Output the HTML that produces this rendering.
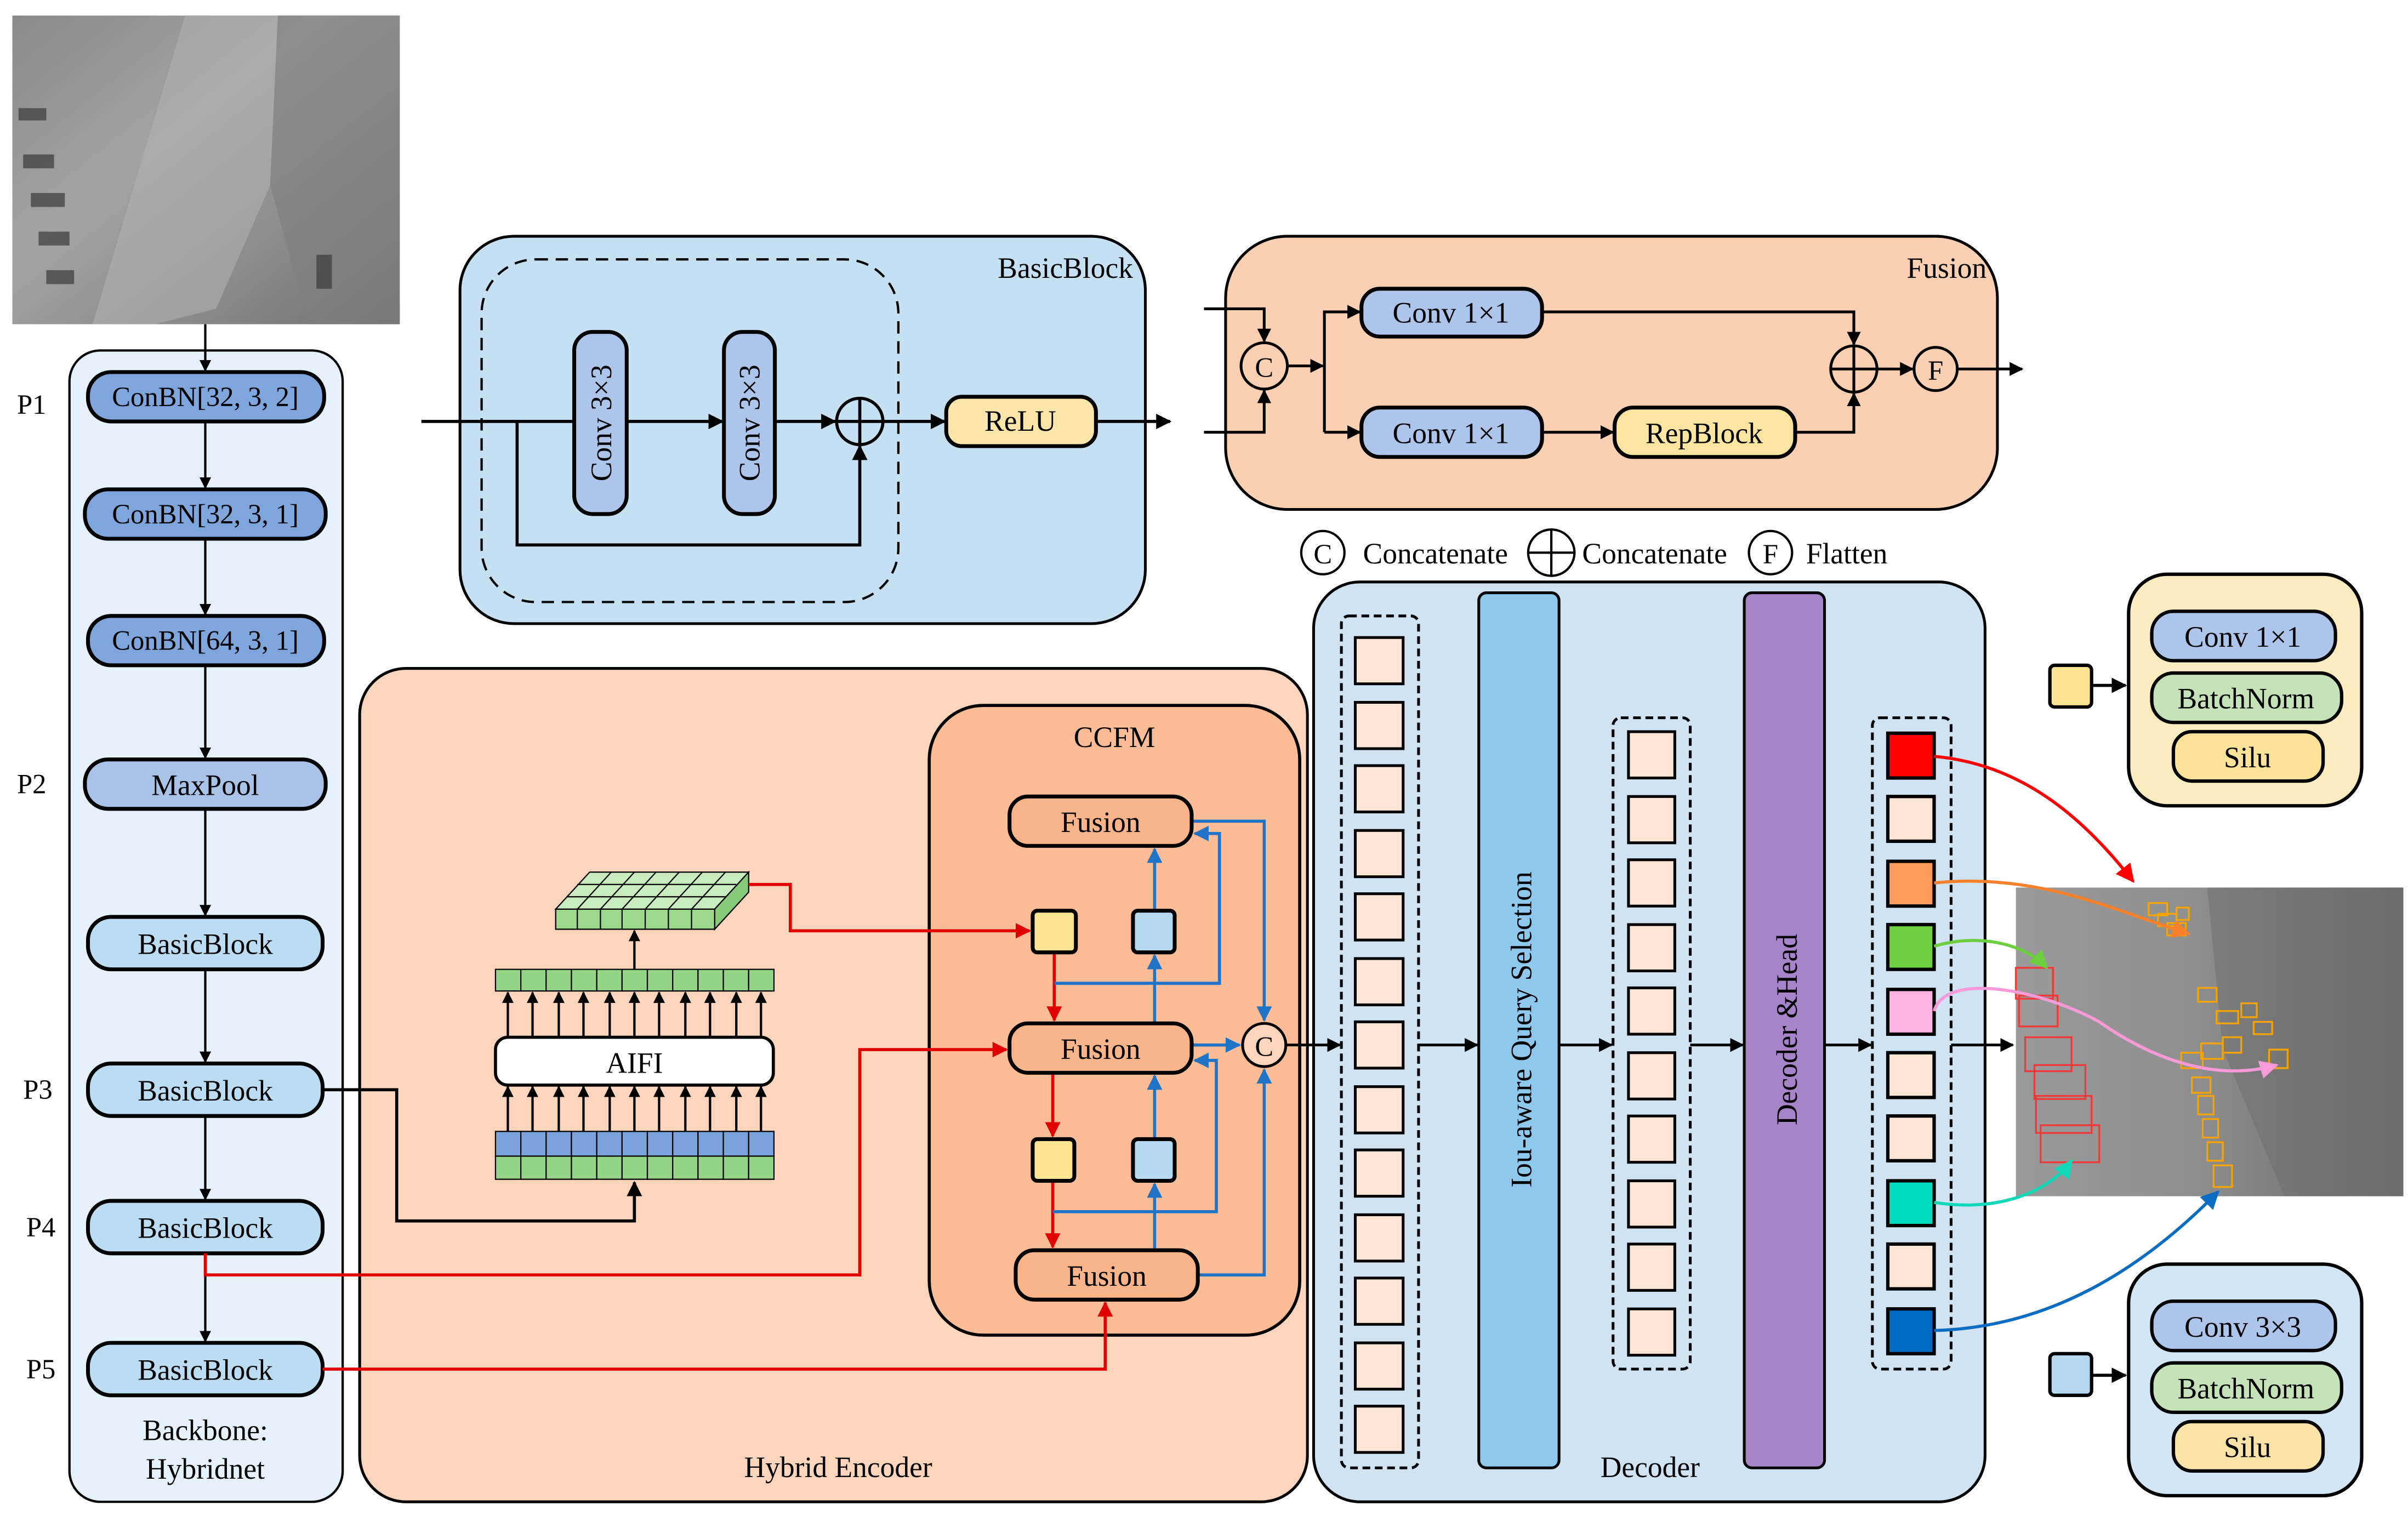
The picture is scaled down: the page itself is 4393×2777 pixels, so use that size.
<!DOCTYPE html>
<html><head><meta charset="utf-8"><style>
html,body{margin:0;padding:0;background:#fff;}
svg{display:block;font-family:"Liberation Serif","Times New Roman",serif;}
svg text{font-family:"Liberation Serif","Times New Roman",serif !important;fill:#000;}
</style></head><body>
<svg width="4393" height="2777" viewBox="0 0 1560 986" xmlns="http://www.w3.org/2000/svg" font-family="Liberation Serif, serif">
<defs>
<marker id="ak" viewBox="0 0 10 10" refX="9" refY="5" markerWidth="5" markerHeight="5" orient="auto-start-reverse"><path d="M0,0L10,5L0,10z" fill="#000"/></marker>
<marker id="ar" viewBox="0 0 10 10" refX="9" refY="5" markerWidth="5" markerHeight="5" orient="auto"><path d="M0,0L10,5L0,10z" fill="#e00000"/></marker>
<marker id="ab" viewBox="0 0 10 10" refX="9" refY="5" markerWidth="5" markerHeight="5" orient="auto"><path d="M0,0L10,5L0,10z" fill="#1f74c8"/></marker>
<marker id="aR" viewBox="0 0 10 10" refX="9" refY="5" markerWidth="6" markerHeight="6" orient="auto"><path d="M0,0L10,5L0,10z" fill="#f00"/></marker>
<marker id="aO" viewBox="0 0 10 10" refX="9" refY="5" markerWidth="6" markerHeight="6" orient="auto"><path d="M0,0L10,5L0,10z" fill="#f7812a"/></marker>
<marker id="aG" viewBox="0 0 10 10" refX="9" refY="5" markerWidth="6" markerHeight="6" orient="auto"><path d="M0,0L10,5L0,10z" fill="#6bcf3d"/></marker>
<marker id="aP" viewBox="0 0 10 10" refX="9" refY="5" markerWidth="6" markerHeight="6" orient="auto"><path d="M0,0L10,5L0,10z" fill="#f99ad8"/></marker>
<marker id="aT" viewBox="0 0 10 10" refX="9" refY="5" markerWidth="6" markerHeight="6" orient="auto"><path d="M0,0L10,5L0,10z" fill="#10d8b8"/></marker>
<marker id="aB" viewBox="0 0 10 10" refX="9" refY="5" markerWidth="6" markerHeight="6" orient="auto"><path d="M0,0L10,5L0,10z" fill="#0b6cc4"/></marker>
<linearGradient id="ph1" x1="0" y1="0" x2="1" y2="1"><stop offset="0" stop-color="#8a8a8a"/><stop offset="0.4" stop-color="#a3a3a3"/><stop offset="0.7" stop-color="#8c8c8c"/><stop offset="1" stop-color="#6f6f6f"/></linearGradient>
<linearGradient id="ph2" x1="0" y1="0" x2="1" y2="0"><stop offset="0" stop-color="#9a9a9a"/><stop offset="0.45" stop-color="#8f8f8f"/><stop offset="0.7" stop-color="#7d7d7d"/><stop offset="1" stop-color="#6a6a6a"/></linearGradient>
</defs>

<rect x="8" y="10" width="251" height="200" fill="url(#ph1)"/>
<path d="M120,10 L180,10 L175,120 L140,200 L100,210 L60,210 Z" fill="#b0b0b0" opacity="0.6"/>
<path d="M180,10 L259,10 L259,210 L200,210 L175,120 Z" fill="#7f7f7f" opacity="0.6"/>
<g fill="#3a3a3a" opacity="0.7"><rect x="12" y="70" width="18" height="8"/><rect x="15" y="100" width="20" height="9"/><rect x="20" y="125" width="22" height="9"/><rect x="25" y="150" width="20" height="9"/><rect x="30" y="175" width="18" height="9"/><rect x="205" y="165" width="10" height="22"/></g>

<rect x="45" y="227" width="177" height="746" rx="20" fill="#e6f2fb" stroke="#000" stroke-width="1.5"/>
<g font-size="18">
<text x="11" y="268">P1</text><text x="11" y="514">P2</text><text x="15" y="712">P3</text><text x="17" y="801">P4</text><text x="17" y="893">P5</text>
</g>
<g stroke="#000" stroke-width="1.5" marker-end="url(#ak)">
<line x1="133" y1="210" x2="133" y2="240"/>
<line x1="133" y1="273" x2="133" y2="316"/>
<line x1="133" y1="349" x2="133" y2="398"/>
<line x1="133" y1="431" x2="133" y2="491"/>
<line x1="133" y1="524" x2="133" y2="593"/>
<line x1="133" y1="628" x2="133" y2="688"/>
<line x1="133" y1="723" x2="133" y2="777"/>
<line x1="133" y1="812" x2="133" y2="869"/>
</g>
<g stroke="#000" stroke-width="2.5">
<rect x="57" y="241" width="153" height="32" rx="15" fill="#7ea6dc"/>
<rect x="55" y="317" width="156" height="32" rx="15" fill="#7ea6dc"/>
<rect x="57" y="399" width="153" height="32" rx="15" fill="#7ea6dc"/>
<rect x="55" y="492" width="156" height="32" rx="15" fill="#a9c2e8"/>
<rect x="57" y="594" width="152" height="34" rx="15" fill="#bcdcf3"/>
<rect x="57" y="689" width="152" height="34" rx="15" fill="#bcdcf3"/>
<rect x="57" y="778" width="152" height="34" rx="15" fill="#bcdcf3"/>
<rect x="57" y="870" width="152" height="34" rx="15" fill="#bcdcf3"/>
</g>
<g font-size="18" text-anchor="middle">
<text x="133" y="263">ConBN[32, 3, 2]</text>
<text x="133" y="339">ConBN[32, 3, 1]</text>
<text x="133" y="421">ConBN[64, 3, 1]</text>
<text x="133" y="515" font-size="19">MaxPool</text>
<text x="133" y="618" font-size="19">BasicBlock</text>
<text x="133" y="713" font-size="19">BasicBlock</text>
<text x="133" y="802" font-size="19">BasicBlock</text>
<text x="133" y="894" font-size="19">BasicBlock</text>
<text x="133" y="933" font-size="19">Backbone:</text>
<text x="133" y="958" font-size="19">Hybridnet</text>
</g>

<rect x="298" y="153" width="444" height="251" rx="35" fill="#c5e0f3" stroke="#000" stroke-width="1.8"/>
<text x="734" y="180" font-size="19" text-anchor="end">BasicBlock</text>
<rect x="312" y="168" width="270" height="222" rx="35" fill="none" stroke="#000" stroke-width="1.5" stroke-dasharray="8,5"/>
<g stroke="#000" stroke-width="2">
<line x1="273" y1="273" x2="372" y2="273"/>
<line x1="406" y1="273" x2="468" y2="273" marker-end="url(#ak)"/>
<line x1="502" y1="273" x2="541" y2="273" marker-end="url(#ak)"/>
<line x1="572" y1="273" x2="612" y2="273" marker-end="url(#ak)"/>
<line x1="710" y1="273" x2="758" y2="273" marker-end="url(#ak)"/>
<polyline points="335,273 335,353 557,353 557,289" fill="none" marker-end="url(#ak)"/>
</g>
<rect x="372" y="215" width="34" height="118" rx="12" fill="#adc5ea" stroke="#000" stroke-width="2.5"/>
<rect x="469" y="215" width="33" height="118" rx="12" fill="#adc5ea" stroke="#000" stroke-width="2.5"/>
<text transform="translate(396,274) rotate(-90)" font-size="19" text-anchor="middle">Conv 3×3</text>
<text transform="translate(492,274) rotate(-90)" font-size="19" text-anchor="middle">Conv 3×3</text>
<circle cx="557" cy="273" r="15" fill="#c5e0f3" stroke="#000" stroke-width="2"/>
<line x1="542" y1="273" x2="572" y2="273" stroke="#000" stroke-width="2"/><line x1="557" y1="258" x2="557" y2="288" stroke="#000" stroke-width="2"/>
<rect x="613" y="257" width="97" height="32" rx="10" fill="#fbe5a8" stroke="#000" stroke-width="2.5"/>
<text x="661" y="279" font-size="19" text-anchor="middle">ReLU</text>

<rect x="794" y="153" width="500" height="177" rx="40" fill="#fbcfb1" stroke="#000" stroke-width="1.8"/>
<text x="1287" y="180" font-size="19" text-anchor="end">Fusion</text>
<g stroke="#000" stroke-width="1.8" fill="none">
<polyline points="780,200 819,200 819,221" marker-end="url(#ak)"/>
<polyline points="780,280 819,280 819,253" marker-end="url(#ak)"/>
<line x1="834" y1="237" x2="857" y2="237" marker-end="url(#ak)"/>
<polyline points="858,280 858,202 881,202" marker-end="url(#ak)"/>
<line x1="858" y1="280" x2="881" y2="280" marker-end="url(#ak)"/>
<polyline points="999,202 1201,202 1201,223" marker-end="url(#ak)"/>
<line x1="999" y1="280" x2="1045" y2="280" marker-end="url(#ak)"/>
<polyline points="1163,280 1201,280 1201,255" marker-end="url(#ak)"/>
<line x1="1216" y1="239" x2="1239" y2="239" marker-end="url(#ak)"/>
<line x1="1268" y1="239" x2="1310" y2="239" marker-end="url(#ak)"/>
</g>
<circle cx="819" cy="237" r="15" fill="#fbcfb1" stroke="#000" stroke-width="1.8"/>
<text x="819" y="244" font-size="18" text-anchor="middle">C</text>
<rect x="882" y="187" width="117" height="31" rx="12" fill="#adc5ea" stroke="#000" stroke-width="2.5"/>
<rect x="882" y="264" width="117" height="32" rx="12" fill="#adc5ea" stroke="#000" stroke-width="2.5"/>
<rect x="1046" y="264" width="117" height="32" rx="12" fill="#fbe5a0" stroke="#000" stroke-width="2.5"/>
<g font-size="19" text-anchor="middle"><text x="940" y="209">Conv 1×1</text><text x="940" y="287">Conv 1×1</text><text x="1104" y="287">RepBlock</text></g>
<circle cx="1201" cy="239" r="15" fill="#fbcfb1" stroke="#000" stroke-width="1.8"/>
<line x1="1186" y1="239" x2="1216" y2="239" stroke="#000" stroke-width="1.8"/><line x1="1201" y1="224" x2="1201" y2="254" stroke="#000" stroke-width="1.8"/>
<circle cx="1254" cy="239" r="14" fill="#fbcfb1" stroke="#000" stroke-width="1.8"/>
<text x="1254" y="246" font-size="18" text-anchor="middle">F</text>

<circle cx="857" cy="358" r="14" fill="#fff" stroke="#000" stroke-width="1.5"/><text x="857" y="365" font-size="18" text-anchor="middle">C</text>
<text x="883" y="365" font-size="19">Concatenate</text>
<circle cx="1005" cy="358" r="15" fill="#fff" stroke="#000" stroke-width="1.5"/>
<line x1="990" y1="358" x2="1020" y2="358" stroke="#000" stroke-width="1.5"/><line x1="1005" y1="343" x2="1005" y2="373" stroke="#000" stroke-width="1.5"/>
<text x="1025" y="365" font-size="19">Concatenate</text>
<circle cx="1147" cy="358" r="14" fill="#fff" stroke="#000" stroke-width="1.5"/><text x="1147" y="365" font-size="18" text-anchor="middle">F</text>
<text x="1170" y="365" font-size="19">Flatten</text>

<rect x="233" y="433" width="614" height="540" rx="30" fill="#fdd5bc" stroke="#000" stroke-width="1.8"/>
<text x="543" y="957" font-size="19" text-anchor="middle">Hybrid Encoder</text>
<rect x="602" y="457" width="240" height="408" rx="35" fill="#fcbd96" stroke="#000" stroke-width="2"/>
<text x="722" y="484" font-size="19" text-anchor="middle">CCFM</text>

<g stroke="#000" stroke-width="0.8">
<polygon points="360,589 382,565 485,565 463,589" fill="#c9ecbe"/>
<polygon points="463,589 485,565 485,578 463,602" fill="#86cc78"/>
<rect x="360" y="589" width="103" height="13" fill="#9ad88c"/>
<g fill="none"><line x1="374" y1="589" x2="374" y2="602"/><line x1="389" y1="589" x2="389" y2="602"/><line x1="403" y1="589" x2="403" y2="602"/><line x1="418" y1="589" x2="418" y2="602"/><line x1="433" y1="589" x2="433" y2="602"/><line x1="448" y1="589" x2="448" y2="602"/>
<line x1="367" y1="581" x2="470" y2="581"/><line x1="374" y1="573" x2="477" y2="573"/>
<line x1="374" y1="589" x2="396" y2="565"/><line x1="389" y1="589" x2="411" y2="565"/><line x1="403" y1="589" x2="425" y2="565"/><line x1="418" y1="589" x2="440" y2="565"/><line x1="433" y1="589" x2="455" y2="565"/><line x1="448" y1="589" x2="470" y2="565"/></g>
</g>
<g stroke="#000" stroke-width="0.8">
<g fill="#93d487">
<rect x="321" y="628" width="16.4" height="14"/><rect x="337.4" y="628" width="16.4" height="14"/><rect x="353.8" y="628" width="16.4" height="14"/><rect x="370.2" y="628" width="16.4" height="14"/><rect x="386.6" y="628" width="16.4" height="14"/><rect x="403" y="628" width="16.4" height="14"/><rect x="419.4" y="628" width="16.4" height="14"/><rect x="435.8" y="628" width="16.4" height="14"/><rect x="452.2" y="628" width="16.4" height="14"/><rect x="468.6" y="628" width="16.4" height="14"/><rect x="485" y="628" width="16.4" height="14"/>
<rect x="321" y="749" width="16.4" height="15"/><rect x="337.4" y="749" width="16.4" height="15"/><rect x="353.8" y="749" width="16.4" height="15"/><rect x="370.2" y="749" width="16.4" height="15"/><rect x="386.6" y="749" width="16.4" height="15"/><rect x="403" y="749" width="16.4" height="15"/><rect x="419.4" y="749" width="16.4" height="15"/><rect x="435.8" y="749" width="16.4" height="15"/><rect x="452.2" y="749" width="16.4" height="15"/><rect x="468.6" y="749" width="16.4" height="15"/><rect x="485" y="749" width="16.4" height="15"/>
</g>
<g fill="#7aa3dc">
<rect x="321" y="733" width="16.4" height="16"/><rect x="337.4" y="733" width="16.4" height="16"/><rect x="353.8" y="733" width="16.4" height="16"/><rect x="370.2" y="733" width="16.4" height="16"/><rect x="386.6" y="733" width="16.4" height="16"/><rect x="403" y="733" width="16.4" height="16"/><rect x="419.4" y="733" width="16.4" height="16"/><rect x="435.8" y="733" width="16.4" height="16"/><rect x="452.2" y="733" width="16.4" height="16"/><rect x="468.6" y="733" width="16.4" height="16"/><rect x="485" y="733" width="16.4" height="16"/>
</g>
</g>
<rect x="321" y="672" width="180" height="31" rx="8" fill="#fff" stroke="#000" stroke-width="2"/>
<text x="411" y="695" font-size="19" text-anchor="middle">AIFI</text>
<g stroke="#000" stroke-width="1.5" marker-end="url(#ak)">
<line x1="329" y1="672" x2="329" y2="643"/><line x1="345" y1="672" x2="345" y2="643"/><line x1="362" y1="672" x2="362" y2="643"/><line x1="378" y1="672" x2="378" y2="643"/><line x1="395" y1="672" x2="395" y2="643"/><line x1="411" y1="672" x2="411" y2="643"/><line x1="427" y1="672" x2="427" y2="643"/><line x1="444" y1="672" x2="444" y2="643"/><line x1="460" y1="672" x2="460" y2="643"/><line x1="477" y1="672" x2="477" y2="643"/><line x1="493" y1="672" x2="493" y2="643"/>
<line x1="329" y1="733" x2="329" y2="704"/><line x1="345" y1="733" x2="345" y2="704"/><line x1="362" y1="733" x2="362" y2="704"/><line x1="378" y1="733" x2="378" y2="704"/><line x1="395" y1="733" x2="395" y2="704"/><line x1="411" y1="733" x2="411" y2="704"/><line x1="427" y1="733" x2="427" y2="704"/><line x1="444" y1="733" x2="444" y2="704"/><line x1="460" y1="733" x2="460" y2="704"/><line x1="477" y1="733" x2="477" y2="704"/><line x1="493" y1="733" x2="493" y2="704"/>
<line x1="411" y1="628" x2="411" y2="603"/>
</g>
<polyline points="209,706 257,706 257,791 411,791 411,766" fill="none" stroke="#000" stroke-width="2" marker-end="url(#ak)"/>

<g stroke="#e00000" stroke-width="2" fill="none">
<polyline points="485,573 512,573 512,603 667,603" marker-end="url(#ar)"/>
<polyline points="133,812 133,826 557,826 557,680 652,680" marker-end="url(#ar)"/>
<polyline points="209,887 716,887 716,844" marker-end="url(#ar)"/>
<line x1="683" y1="617" x2="683" y2="661" marker-end="url(#ar)"/>
<line x1="682" y1="695" x2="682" y2="736" marker-end="url(#ar)"/>
<line x1="682" y1="765" x2="682" y2="808" marker-end="url(#ar)"/>
</g>
<g stroke="#1f74c8" stroke-width="2" fill="none">
<line x1="748" y1="590" x2="748" y2="550" marker-end="url(#ab)"/>
<line x1="748" y1="663" x2="748" y2="619" marker-end="url(#ab)"/>
<line x1="748" y1="738" x2="748" y2="697" marker-end="url(#ab)"/>
<line x1="748" y1="810" x2="748" y2="767" marker-end="url(#ab)"/>
<polyline points="683,637 790,637 790,540 774,540" marker-end="url(#ab)"/>
<polyline points="682,785 788,785 788,687 774,687" marker-end="url(#ab)"/>
<polyline points="772,532 819,532 819,661" marker-end="url(#ab)"/>
<line x1="772" y1="677" x2="803" y2="677" marker-end="url(#ab)"/>
<polyline points="776,826 819,826 819,693" marker-end="url(#ab)"/>
</g>
<g stroke="#000" stroke-width="2.5">
<rect x="654" y="516" width="118" height="32" rx="12" fill="#f9b489"/>
<rect x="654" y="663" width="118" height="32" rx="12" fill="#f9b489"/>
<rect x="658" y="810" width="118" height="32" rx="12" fill="#f9b489"/>
<rect x="669" y="590" width="28" height="27" rx="3" fill="#fde392"/>
<rect x="734" y="590" width="27" height="27" rx="3" fill="#b6d9f1"/>
<rect x="669" y="738" width="27" height="27" rx="3" fill="#fde392"/>
<rect x="734" y="738" width="27" height="27" rx="3" fill="#b6d9f1"/>
</g>
<g font-size="19" text-anchor="middle"><text x="713" y="539">Fusion</text><text x="713" y="686">Fusion</text><text x="717" y="833">Fusion</text></g>
<circle cx="819" cy="677" r="14" fill="#fcd5bc" stroke="#000" stroke-width="1.8"/>
<text x="819" y="684" font-size="18" text-anchor="middle">C</text>

<rect x="851" y="377" width="435" height="596" rx="30" fill="#cfe3f3" stroke="#000" stroke-width="1.8"/>
<text x="1069" y="957" font-size="19" text-anchor="middle">Decoder</text>
<g stroke="#000" stroke-width="1.8" marker-end="url(#ak)">
<line x1="833" y1="677" x2="868" y2="677"/>
<line x1="919" y1="677" x2="957" y2="677"/>
<line x1="1010" y1="677" x2="1044" y2="677"/>
<line x1="1095" y1="677" x2="1129" y2="677"/>
<line x1="1182" y1="677" x2="1212" y2="677"/>
<line x1="1264" y1="677" x2="1304" y2="677"/>
</g>
<rect x="869" y="399" width="50" height="552" rx="5" fill="none" stroke="#000" stroke-width="1.8" stroke-dasharray="5,3"/>
<g fill="#fde4d4" stroke="#000" stroke-width="1.8">
<rect x="878" y="413" width="31" height="30"/><rect x="878" y="455" width="31" height="30"/><rect x="878" y="496" width="31" height="30"/><rect x="878" y="538" width="31" height="30"/><rect x="878" y="579" width="31" height="30"/><rect x="878" y="621" width="31" height="30"/><rect x="878" y="662" width="31" height="30"/><rect x="878" y="704" width="31" height="30"/><rect x="878" y="745" width="31" height="30"/><rect x="878" y="787" width="31" height="30"/><rect x="878" y="828" width="31" height="30"/><rect x="878" y="870" width="31" height="30"/><rect x="878" y="911" width="31" height="30"/>
</g>
<rect x="958" y="384" width="52" height="567" rx="5" fill="#8ec8ec" stroke="#000" stroke-width="1.8"/>
<text transform="translate(992,667) rotate(-90)" font-size="19" text-anchor="middle">Iou-aware Query Selection</text>
<rect x="1045" y="465" width="50" height="422" rx="5" fill="none" stroke="#000" stroke-width="1.8" stroke-dasharray="5,3"/>
<g fill="#fde4d4" stroke="#000" stroke-width="1.8">
<rect x="1055" y="474" width="30" height="30"/><rect x="1055" y="516" width="30" height="30"/><rect x="1055" y="557" width="30" height="30"/><rect x="1055" y="599" width="30" height="30"/><rect x="1055" y="640" width="30" height="30"/><rect x="1055" y="682" width="30" height="30"/><rect x="1055" y="723" width="30" height="30"/><rect x="1055" y="765" width="30" height="30"/><rect x="1055" y="806" width="30" height="30"/><rect x="1055" y="848" width="30" height="30"/>
</g>
<rect x="1130" y="384" width="52" height="567" rx="5" fill="#a784c9" stroke="#000" stroke-width="1.8"/>
<text transform="translate(1164,667) rotate(-90)" font-size="19" text-anchor="middle">Decoder &amp;Head</text>
<rect x="1213" y="465" width="51" height="422" rx="5" fill="none" stroke="#000" stroke-width="1.8" stroke-dasharray="5,3"/>
<g stroke="#000" stroke-width="2.2">
<rect x="1223" y="475" width="30" height="29" fill="#ff0000"/>
<rect x="1223" y="516" width="30" height="29" fill="#fde4d4"/>
<rect x="1223" y="558" width="30" height="29" fill="#fd9a5c"/>
<rect x="1223" y="599" width="30" height="29" fill="#6dd13f"/>
<rect x="1223" y="641" width="30" height="29" fill="#feb3e4"/>
<rect x="1223" y="682" width="30" height="29" fill="#fde4d4"/>
<rect x="1223" y="723" width="30" height="29" fill="#fde4d4"/>
<rect x="1223" y="765" width="30" height="29" fill="#00dcbd"/>
<rect x="1223" y="806" width="30" height="29" fill="#fde4d4"/>
<rect x="1223" y="848" width="30" height="29" fill="#006ac2"/>
</g>

<rect x="1306" y="575" width="251" height="200" fill="url(#ph2)"/>
<path d="M1430,575 L1557,575 L1557,775 L1480,775 L1440,680 Z" fill="#6e6e6e" opacity="0.5"/>
<g fill="none" stroke="#f03a3a" stroke-width="1.2">
<rect x="1306" y="627" width="24" height="20"/><rect x="1308" y="645" width="25" height="20"/><rect x="1312" y="672" width="30" height="22"/><rect x="1318" y="690" width="33" height="22"/><rect x="1319" y="710" width="36" height="24"/><rect x="1322" y="729" width="38" height="24"/>
</g>
<g fill="none" stroke="#f5a300" stroke-width="1.2">
<rect x="1392" y="585" width="12" height="8"/><rect x="1398" y="592" width="12" height="8"/><rect x="1404" y="598" width="12" height="8"/><rect x="1410" y="588" width="8" height="8"/>
<rect x="1424" y="640" width="12" height="9"/><rect x="1436" y="655" width="14" height="8"/><rect x="1452" y="650" width="10" height="9"/><rect x="1460" y="662" width="12" height="8"/><rect x="1413" y="682" width="14" height="10"/><rect x="1426" y="676" width="14" height="10"/><rect x="1440" y="672" width="12" height="10"/><rect x="1470" y="680" width="12" height="12"/><rect x="1420" y="698" width="12" height="10"/><rect x="1424" y="710" width="10" height="12"/><rect x="1427" y="725" width="10" height="12"/><rect x="1430" y="740" width="10" height="12"/><rect x="1434" y="755" width="12" height="14"/>
</g>
<g fill="none" stroke-width="2">
<path d="M1253,490 C1310,495 1350,530 1382,571" stroke="#f00" marker-end="url(#aR)"/>
<path d="M1253,572 C1320,565 1370,590 1418,605" stroke="#f7812a" marker-end="url(#aO)"/>
<path d="M1253,613 C1280,605 1310,610 1326,627" stroke="#6bcf3d" marker-end="url(#aG)"/>
<path d="M1253,655 C1260,630 1320,640 1360,662 C1400,690 1440,700 1475,690" stroke="#f99ad8" marker-end="url(#aP)"/>
<path d="M1253,779 C1290,785 1325,775 1342,752" stroke="#10d8b8" marker-end="url(#aT)"/>
<path d="M1253,862 C1330,860 1390,820 1437,772" stroke="#0b6cc4" marker-end="url(#aB)"/>
</g>

<rect x="1379" y="372" width="151" height="150" rx="25" fill="#fdecbf" stroke="#000" stroke-width="2.2"/>
<rect x="1328" y="431" width="27" height="27" rx="3" fill="#fde392" stroke="#000" stroke-width="2.2"/>
<line x1="1355" y1="444" x2="1377" y2="444" stroke="#000" stroke-width="2" marker-end="url(#ak)"/>
<rect x="1394" y="396" width="119" height="32" rx="14" fill="#adc5ea" stroke="#000" stroke-width="2.2"/>
<rect x="1394" y="436" width="123" height="32" rx="14" fill="#c6e2b8" stroke="#000" stroke-width="2.2"/>
<rect x="1408" y="474" width="97" height="32" rx="12" fill="#fde39a" stroke="#000" stroke-width="2.2"/>
<g font-size="19" text-anchor="middle"><text x="1453" y="419">Conv 1×1</text><text x="1455" y="459">BatchNorm</text><text x="1456" y="497">Silu</text></g>

<rect x="1379" y="819" width="151" height="150" rx="25" fill="#d2e6f5" stroke="#000" stroke-width="2.2"/>
<rect x="1328" y="877" width="27" height="27" rx="3" fill="#b6d9f1" stroke="#000" stroke-width="2.2"/>
<line x1="1355" y1="891" x2="1377" y2="891" stroke="#000" stroke-width="2" marker-end="url(#ak)"/>
<rect x="1394" y="843" width="119" height="32" rx="14" fill="#adc5ea" stroke="#000" stroke-width="2.2"/>
<rect x="1394" y="883" width="123" height="32" rx="14" fill="#c6e2b8" stroke="#000" stroke-width="2.2"/>
<rect x="1408" y="921" width="97" height="32" rx="12" fill="#fbe3a8" stroke="#000" stroke-width="2.2"/>
<g font-size="19" text-anchor="middle"><text x="1453" y="866">Conv 3×3</text><text x="1455" y="906">BatchNorm</text><text x="1456" y="944">Silu</text></g>
</svg>
</body></html>
